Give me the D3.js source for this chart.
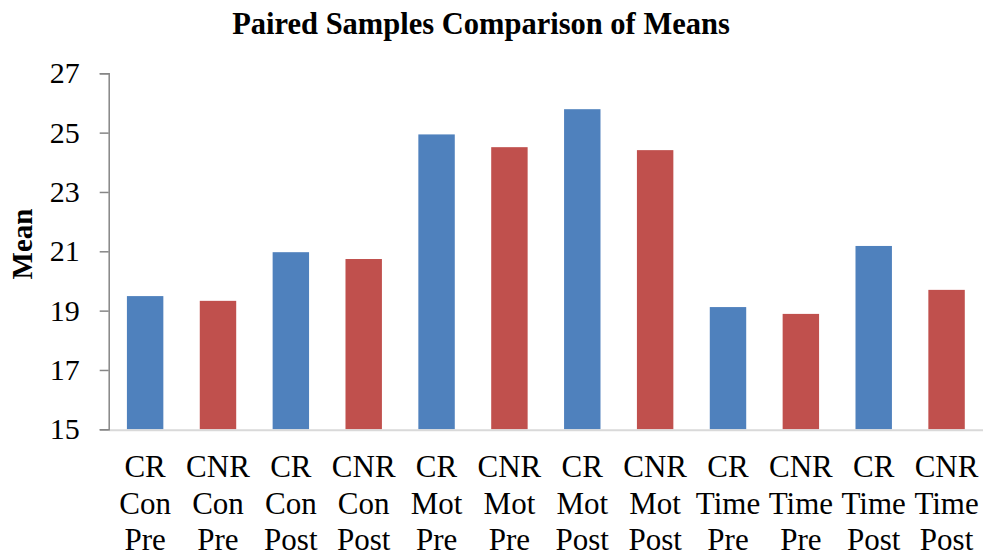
<!DOCTYPE html>
<meta charset="utf-8" />
<script src="https://d3js.org/d3.v7.min.js"></script>
<style>
  body { margin: 0; background: #fff; }
  text { font-family: "Liberation Serif", "Times New Roman", serif; fill: #000; }
</style>
<div id="chart"></div>
<script>
  // Data
  const categories = [
    ["CR", "Con", "Pre"], ["CNR", "Con", "Pre"],
    ["CR", "Con", "Post"], ["CNR", "Con", "Post"],
    ["CR", "Mot", "Pre"], ["CNR", "Mot", "Pre"],
    ["CR", "Mot", "Post"], ["CNR", "Mot", "Post"],
    ["CR", "Time", "Pre"], ["CNR", "Time", "Pre"],
    ["CR", "Time", "Post"], ["CNR", "Time", "Post"]
  ];
  const means = [19.49, 19.33, 20.97, 20.74, 24.94, 24.51, 25.79, 24.41, 19.12, 18.89, 21.18, 19.70];
  const yTicks = [15, 17, 19, 21, 23, 25, 27];
  const colors = ["#4F81BD", "#C0504D"];

  const W = 985, H = 556;
  const margin = { top: 73.3, right: 2, bottom: 126.7, left: 108.7 },
    width = W - margin.left - margin.right,
    height = H - margin.top - margin.bottom;

  const root = d3.select("#chart").append("svg")
    .attr("width", W).attr("height", H);

  root.append("text")
    .attr("x", 481).attr("y", 34)
    .attr("text-anchor", "middle")
    .style("font-size", "30.5px").style("font-weight", "bold")
    .text("Paired Samples Comparison of Means");

  root.append("text")
    .attr("transform", "translate(32, 244) rotate(-90)")
    .attr("text-anchor", "middle")
    .style("font-size", "29px").style("font-weight", "bold")
    .text("Mean");

  const svg = root.append("g")
    .attr("transform", `translate(${margin.left}, ${margin.top})`);

  const x = d3.scaleBand()
    .domain(d3.range(categories.length))
    .range([0, width])
    .paddingInner(0.5).paddingOuter(0.25);

  const y = d3.scaleLinear().domain([15, 27]).range([height, 0]);

  // Bars
  svg.append("g").selectAll("rect")
    .data(means)
    .join("rect")
    .attr("x", (d, i) => x(i))
    .attr("y", d => y(d))
    .attr("width", x.bandwidth())
    .attr("height", d => height - y(d))
    .attr("fill", (d, i) => colors[i % 2]);

  // Bottom axis line
  svg.append("line")
    .attr("x1", 0).attr("x2", width)
    .attr("y1", height + 1).attr("y2", height + 1)
    .attr("stroke", "#d9d9d9").attr("stroke-width", 2);

  // Y axis
  const yAxis = svg.append("g")
    .call(d3.axisLeft(y).tickValues(yTicks).tickSize(9).tickPadding(20));
  yAxis.select(".domain").attr("stroke", "#868686").attr("stroke-width", 1.5);
  yAxis.selectAll(".tick line").attr("stroke", "#868686").attr("stroke-width", 1.5);
  yAxis.selectAll(".tick text")
    .style("font-size", "30px")
    .style("font-family", "'Liberation Serif', serif")
    .attr("fill", "#000");

  // Category labels (three lines)
  const lab = svg.append("g").selectAll("text")
    .data(categories)
    .join("text")
    .attr("text-anchor", "middle")
    .attr("x", (d, i) => x(i) + x.bandwidth() / 2)
    .style("font-size", "31px");
  lab.selectAll("tspan")
    .data(d => d)
    .join("tspan")
    .attr("x", function () { return d3.select(this.parentNode).attr("x"); })
    .attr("y", (d, j) => height + 48 + j * 36.5)
    .text(d => d);
</script>
